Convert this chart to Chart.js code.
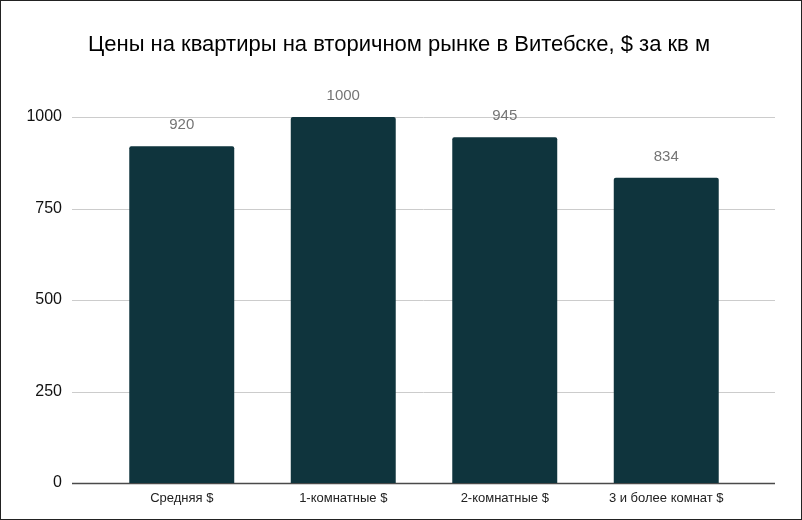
<!DOCTYPE html>
<html lang="ru">
<head>
<meta charset="utf-8">
<script src="https://cdn.jsdelivr.net/npm/chart.js@4"></script>
<style>
  html, body { margin: 0; padding: 0; background: #fff; }
  #wrap { width: 802px; height: 520px; box-sizing: border-box; border: 1px solid #222; position: relative; }
  #chart { display: block; }
</style>
</head>
<body>
<div id="wrap"><canvas id="chart" width="800" height="518"></canvas></div>
<script>
// данные графика
const categories = ["Средняя $", "1-комнатные $", "2-комнатные $", "3 и более комнат $"];
const prices = [920, 1000, 945, 834];
const yTicks = [0, 250, 500, 750, 1000];
const titleText = "Цены на квартиры на вторичном рынке в Витебске, $ за кв м";

const FONT = "'Liberation Sans', Arial, sans-serif";

// заголовок по центру всего холста
const titlePlugin = {
  id: "centerTitle",
  afterDraw(chart) {
    const { ctx } = chart;
    ctx.save();
    ctx.font = "22px " + FONT;
    ctx.fillStyle = "#000";
    ctx.textAlign = "center";
    ctx.textBaseline = "middle";
    ctx.fillText(titleText, 398, 44);
    ctx.restore();
  },
};

// горизонтальная сетка шире, чем область столбцов
const gridPlugin = {
  id: "wideGrid",
  beforeDatasetsDraw(chart) {
    const { ctx, scales } = chart;
    const y = scales.y;
    ctx.save();
    yTicks.forEach((v) => {
      const py = Math.round(y.getPixelForValue(v)) + 0.5;
      ctx.beginPath();
      ctx.strokeStyle = v === 0 ? "#4a4a4a" : "#cccccc";
      ctx.lineWidth = v === 0 ? 1.5 : 1;
      ctx.moveTo(71, py);
      ctx.lineTo(774, py);
      ctx.stroke();
    });
    ctx.restore();
  },
};

// подписи значений над столбцами
const labelPlugin = {
  id: "barLabels",
  afterDatasetsDraw(chart) {
    const { ctx } = chart;
    const meta = chart.getDatasetMeta(0);
    ctx.save();
    ctx.font = "15px " + FONT;
    ctx.fillStyle = "#757575";
    ctx.textAlign = "center";
    ctx.textBaseline = "middle";
    meta.data.forEach((bar, i) => {
      ctx.fillText(String(prices[i]), bar.x, bar.y - 21);
    });
    ctx.restore();
  },
};

new Chart(document.getElementById("chart"), {
  type: "bar",
  data: {
    labels: categories,
    datasets: [
      {
        data: prices,
        backgroundColor: "#0f343d",
        borderRadius: { topLeft: 2, topRight: 2 },
        borderSkipped: "bottom",
        barPercentage: 0.65,
        categoryPercentage: 1,
      },
    ],
  },
  options: {
    responsive: false,
    animation: false,
    layout: { padding: { left: 0, right: 54, top: 116, bottom: 0 } },
    plugins: {
      legend: { display: false },
      tooltip: { enabled: false },
      title: { display: false },
    },
    scales: {
      x: {
        offset: true,
        grid: { display: false, drawTicks: false },
        border: { display: false },
        ticks: {
          color: "#222",
          padding: 8,
          font: { family: FONT, size: 13 },
          maxRotation: 0,
        },
        afterFit(scale) { scale.height = 36; },
      },
      y: {
        min: 0,
        max: 1000,
        afterBuildTicks(scale) { scale.ticks = yTicks.map((v) => ({ value: v })); },
        grid: { display: false, drawTicks: false },
        border: { display: false },
        ticks: {
          color: "#111",
          padding: 39,
          font: { family: FONT, size: 16 },
          callback: (v) => String(v),
        },
        afterFit(scale) {
          scale.width = 100;
          scale.paddingTop = 0;
          scale.paddingBottom = 0;
        },
      },
    },
  },
  plugins: [gridPlugin, labelPlugin, titlePlugin],
});
</script>
</body>
</html>
